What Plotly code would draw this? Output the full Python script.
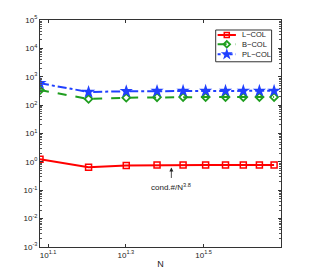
import plotly.graph_objects as go

N = [12, 16, 20, 24, 28, 32, 36, 40, 44, 48]
l_col = [1.24, 0.65, 0.74, 0.77, 0.78, 0.78, 0.78, 0.78, 0.78, 0.78]
b_col = [340, 165, 183, 190, 192, 192, 192, 192, 192, 192]
pl_col = [590, 290, 308, 315, 318, 318, 318, 318, 318, 318]
names = ["L\u2212COL", "B\u2212COL", "PL\u2212COL"]

y_tickvals = [1e-3, 1e-2, 1e-1, 1e0, 1e1, 1e2, 1e3, 1e4, 1e5]
y_ticktext = ["10<sup>%d</sup>" % k for k in range(-3, 6)]
x_tickvals = [10 ** 1.1, 10 ** 1.3, 10 ** 1.5]
x_ticktext = ["10<sup>1.1</sup>", "10<sup>1.3</sup>", "10<sup>1.5</sup>"]

RED, GREEN, BLUE = "#ff0000", "#1f9e1f", "#2040ff"
styles = [
    dict(line=dict(color=RED, width=2, dash="solid"),
         marker=dict(symbol="square-open", size=6, color=RED, line=dict(width=1.5))),
    dict(line=dict(color=GREEN, width=2, dash="dash"),
         marker=dict(symbol="diamond-open", size=6, color=GREEN, line=dict(width=1.8))),
    dict(line=dict(color=BLUE, width=2, dash="dashdot"),
         marker=dict(symbol="star", size=10, color=BLUE, line=dict(width=0))),
]

fig = go.Figure()
for ys, nm, st in zip([l_col, b_col, pl_col], names, styles):
    fig.add_trace(go.Scatter(x=N, y=ys, name=nm, mode="lines+markers", showlegend=False, **st))

# custom compact legend (matlab style) on an overlay axis spanning plot area
leg_x0, leg_x1, leg_y0, leg_y1 = 0.729, 0.961, 0.816, 0.956
item_y = [0.934, 0.893, 0.849]
fig.add_shape(type="rect", xref="paper", yref="paper", x0=leg_x0, x1=leg_x1, y0=leg_y0, y1=leg_y1,
              line=dict(color="#333", width=1), fillcolor="white", layer="below")
leg_styles = [
    dict(line=dict(color=RED, width=2, dash="solid"),
         marker=dict(symbol="square-open", size=5, color=RED, line=dict(width=1.5))),
    dict(line=dict(color=GREEN, width=2, dash="dash"),
         marker=dict(symbol="diamond-open", size=5, color=GREEN, line=dict(width=1.8))),
    dict(line=dict(color=BLUE, width=2, dash="dot"),
         marker=dict(symbol="star", size=9, color=BLUE, line=dict(width=0))),
]
for yy, nm, st in zip(item_y, names, leg_styles):
    fig.add_trace(go.Scatter(x=[0.737, 0.813], y=[yy, yy], mode="lines", line=st["line"],
                             xaxis="x2", yaxis="y2", showlegend=False, hoverinfo="skip"))
    fig.add_trace(go.Scatter(x=[0.775], y=[yy], mode="markers", marker=st["marker"],
                             xaxis="x2", yaxis="y2", showlegend=False, hoverinfo="skip"))
    fig.add_annotation(x=0.828, y=yy, xref="x2", yref="y2", text=nm, showarrow=False,
                       xanchor="left", yanchor="middle", font=dict(size=7.5, color="#222"))

fig.add_annotation(x=1.417, y=-0.2, xref="x", yref="y", ax=1.417, ay=-0.62,
                   axref="x", ayref="y", showarrow=True, arrowhead=2, arrowsize=1,
                   arrowwidth=0.8, arrowcolor="#222", text="")
fig.add_annotation(x=1.417, y=-0.88, xref="x", yref="y", showarrow=False,
                   text="cond.#/N<sup>3.8</sup>", font=dict(size=8, color="#222"))

axis_common = dict(showline=True, linecolor="#333", linewidth=1, mirror="allticks",
                   ticks="inside", tickcolor="#333", showgrid=False, zeroline=False,
                   automargin=False, tickfont=dict(size=8, color="#222"))
fig.update_xaxes(type="log", range=[1.0792, 1.699], tickvals=x_tickvals, ticktext=x_ticktext,
                 ticklen=3, title=dict(text="N", font=dict(size=9, color="#222"), standoff=2),
                 **axis_common)
fig.update_yaxes(type="log", range=[-3, 5], tickvals=y_tickvals, ticktext=y_ticktext,
                 ticklen=3, minor=dict(ticks="inside", ticklen=2, tickcolor="#555",
                                       tickvals=[m * 10 ** k for k in range(-3, 5) for m in range(2, 10)]),
                 **axis_common)

# the page body adds an 8px offset, so the figure is sized to fit the window after it
fig.update_layout(
    width=303, height=270,
    margin=dict(l=32, r=30, t=12, b=31),
    paper_bgcolor="white", plot_bgcolor="white",
    font=dict(family="Liberation Sans, Arial, sans-serif", size=8, color="#222"),
    showlegend=False,
    xaxis2=dict(overlaying="x", range=[0, 1], visible=False, fixedrange=True),
    yaxis2=dict(overlaying="y", range=[0, 1], visible=False, fixedrange=True),
)
fig.write_html("out.html")
